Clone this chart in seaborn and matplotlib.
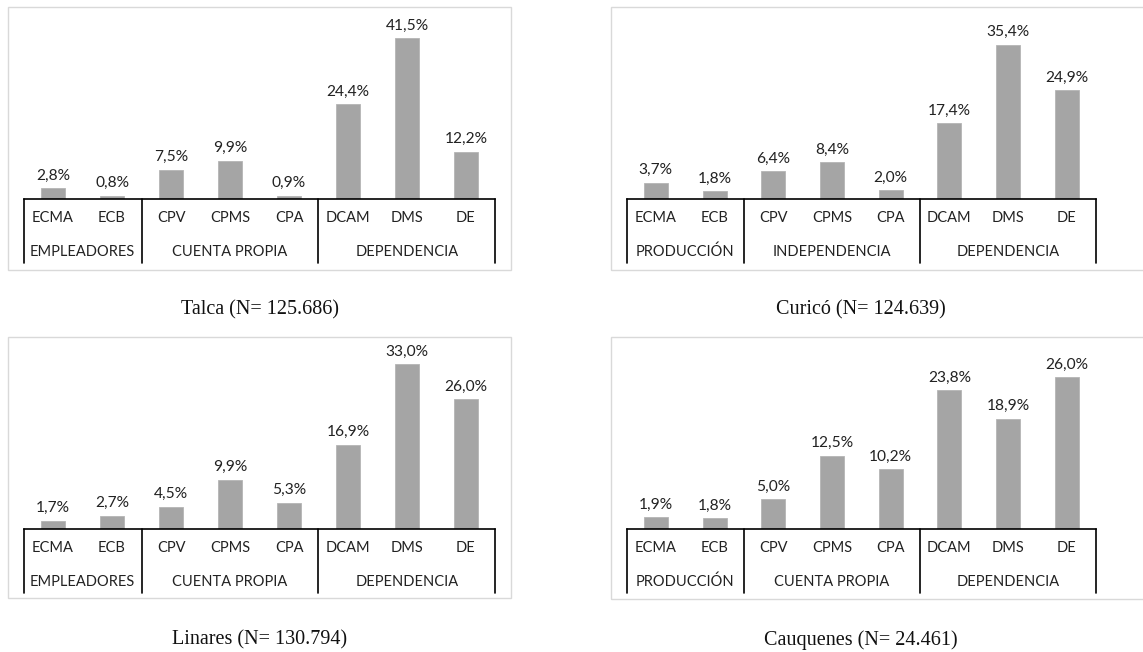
import matplotlib
matplotlib.use("Agg")
import matplotlib.pyplot as plt
import seaborn as sns
import pandas as pd
from matplotlib.patches import Rectangle
from matplotlib.lines import Line2D

sns.set_theme(style="white")
plt.rcParams['font.family'] = ['Lato', 'DejaVu Sans']

categories = ["ECMA", "ECB", "CPV", "CPMS", "CPA", "DCAM", "DMS", "DE"]

talca_vals = [2.8, 0.8, 7.5, 9.9, 0.9, 24.4, 41.5, 12.2]
curico_vals = [3.7, 1.8, 6.4, 8.4, 2.0, 17.4, 35.4, 24.9]
linares_vals = [1.7, 2.7, 4.5, 9.9, 5.3, 16.9, 33.0, 26.0]
cauquenes_vals = [1.9, 1.8, 5.0, 12.5, 10.2, 23.8, 18.9, 26.0]

groups_talca = ["EMPLEADORES", "CUENTA PROPIA", "DEPENDENCIA"]
groups_curico = ["PRODUCCIÓN", "INDEPENDENCIA", "DEPENDENCIA"]
groups_linares = ["EMPLEADORES", "CUENTA PROPIA", "DEPENDENCIA"]
groups_cauquenes = ["PRODUCCIÓN", "CUENTA PROPIA", "DEPENDENCIA"]
group_sizes = [2, 3, 3]

captions = ["Talca (N= 125.686)", "Curicó (N= 124.639)",
            "Linares (N= 130.794)", "Cauquenes (N= 24.461)"]
ymaxes = [45, 40, 35, 30]

W, H = 1143, 652
fig = plt.figure(figsize=(W / 100, H / 100), dpi=100)
fig.patch.set_facecolor("white")

BAR = "#a5a5a5"
PH = 174.5  # plot area height (px)

panels = [
    (talca_vals, groups_talca, captions[0], ymaxes[0], 23.5, 495.5, 199, (8, 7, 511, 270), (260, 310)),
    (curico_vals, groups_curico, captions[1], ymaxes[1], 626.5, 1096, 199, (611, 7, 1150, 270), (861, 310)),
    (linares_vals, groups_linares, captions[2], ymaxes[2], 23.5, 495.5, 529, (8, 337, 511, 598), (260, 640)),
    (cauquenes_vals, groups_cauquenes, captions[3], ymaxes[3], 626.5, 1096, 528.5, (611, 337, 1150, 599), (861, 640)),
]

for vals, groups, cap, ymax, xl, xr, yb, frame, cpos in panels:
    fx0, fy0, fx1, fy1 = frame
    fig.patches.append(Rectangle((fx0 / W, 1 - fy1 / H), (fx1 - fx0) / W, (fy1 - fy0) / H,
                                 transform=fig.transFigure, fill=False,
                                 edgecolor="#d9d9d9", linewidth=1.0, zorder=0))
    ax = fig.add_axes([xl / W, 1 - yb / H, (xr - xl) / W, PH / H])
    ax.patch.set_alpha(0)
    df = pd.DataFrame({"cat": categories, "val": vals})
    sns.barplot(data=df, x="cat", y="val", ax=ax, color=BAR, width=0.41,
                saturation=1, edgecolor="#b5b5b5", linewidth=0.6)
    ax.set_xlim(-0.5, len(categories) - 0.5)
    ax.set_ylim(0, ymax)
    for s in ["top", "left", "right"]:
        ax.spines[s].set_visible(False)
    ax.spines["bottom"].set_color("black")
    ax.spines["bottom"].set_linewidth(1.2)
    ax.set_yticks([])
    ax.set_xlabel("")
    ax.set_ylabel("")
    ax.tick_params(axis="x", length=0, pad=14, labelsize=10.5, labelcolor="#222222")
    for lbl in ax.get_xticklabels():
        lbl.set_verticalalignment("center")
    for c in ax.containers:
        ax.bar_label(c, labels=[f"{v:.1f}%".replace(".", ",") for v in c.datavalues],
                     padding=4, fontsize=11.2, color="#222222")
    bounds = [-0.5]
    acc = -0.5
    for g in group_sizes:
        acc += g
        bounds.append(acc)
    for bnd in bounds:
        ax.add_line(Line2D([bnd, bnd], [0, -64 / PH], transform=ax.get_xaxis_transform(),
                           color="black", linewidth=1.2, clip_on=False))
    for i, g in enumerate(groups):
        mid = (bounds[i] + bounds[i + 1]) / 2
        ax.text(mid, -53 / PH, g, transform=ax.get_xaxis_transform(), ha="center",
                va="center", fontsize=10.5, color="#222222")
    fig.text(cpos[0] / W, 1 - cpos[1] / H, cap, ha="center", va="center",
             fontsize=14.5, family=["Liberation Serif", "DejaVu Serif"], color="#111111")

fig.savefig("out.png", dpi=100, facecolor="white")
